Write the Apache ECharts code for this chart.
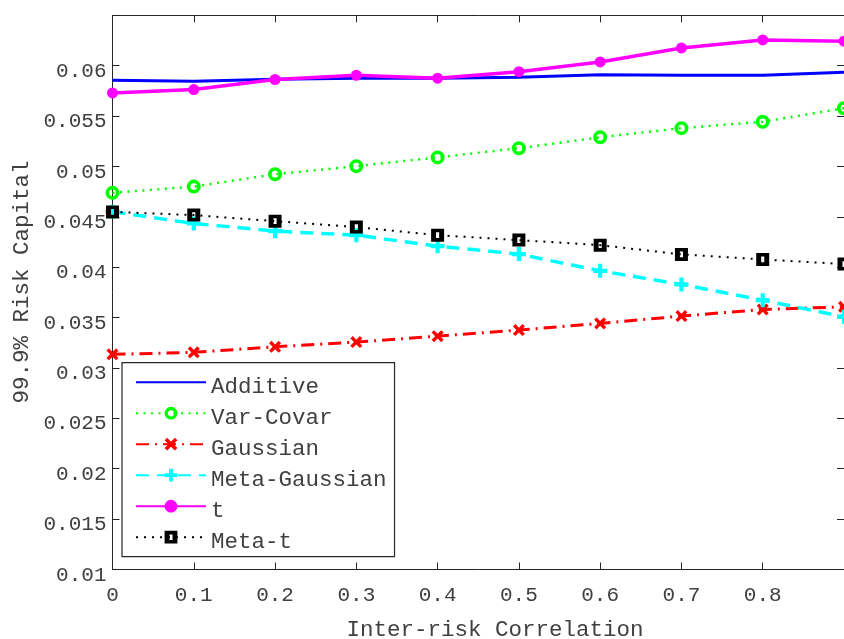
<!DOCTYPE html>
<html>
<head>
<meta charset="utf-8">
<script src="https://cdn.jsdelivr.net/npm/echarts@6/dist/echarts.min.js"></script>
<style>
html,body{margin:0;padding:0;background:#fff;}
#chart{width:844px;height:639px;}
</style>
</head>
<body>
<div id="chart"></div>
<script>
// ---- data ----
const correlations = [0, 0.1, 0.2, 0.3, 0.4, 0.5, 0.6, 0.7, 0.8, 0.9];
const additive     = [0.05856, 0.05846, 0.05866, 0.05876, 0.05876, 0.05885, 0.05910, 0.05905, 0.05905, 0.05935];
const varCovar     = [0.04738, 0.04800, 0.04923, 0.05003, 0.05090, 0.05181, 0.05290, 0.05380, 0.05443, 0.05578];
const gaussian     = [0.03135, 0.03155, 0.03210, 0.03257, 0.03316, 0.03376, 0.03442, 0.03515, 0.03581, 0.03607];
const metaGaussian = [0.04550, 0.04434, 0.04358, 0.04318, 0.04209, 0.04130, 0.03964, 0.03829, 0.03673, 0.03508];
const tCopula      = [0.05730, 0.05763, 0.05863, 0.05905, 0.05876, 0.05940, 0.06037, 0.06176, 0.06256, 0.06243];
const metaT        = [0.04549, 0.04517, 0.04457, 0.04398, 0.04318, 0.04269, 0.04219, 0.04127, 0.04077, 0.04031];
const seriesNames  = ['Additive', 'Var-Covar', 'Gaussian', 'Meta-Gaussian', 't', 'Meta-t'];
const xTitle = 'Inter-risk Correlation';
const yTitle = '99.9% Risk Capital';

const pairs = arr => correlations.map((x, i) => [x, arr[i]]);
const FONT = 'Liberation Mono';
const AX = '#262626';
const TXT = '#404040';

const xSymbol = 'path://M2,0 L5,3 L8,0 L10,2 L7,5 L10,8 L8,10 L5,7 L2,10 L0,8 L3,5 L0,2 Z';
const plusSymbol = 'path://M3.5,0 L6.5,0 L6.5,3.5 L10,3.5 L10,6.5 L6.5,6.5 L6.5,10 L3.5,10 L3.5,6.5 L0,6.5 L0,3.5 L3.5,3.5 Z';
const ringSymbol = 'path://M0,5 A5,5 0 1,1 10,5 A5,5 0 1,1 0,5 Z M2.6,5 A2.4,2.4 0 1,0 7.4,5 A2.4,2.4 0 1,0 2.6,5 Z';
const boxSymbol = 'path://M0,0 L10,0 L10,10 L0,10 Z M3.8,2.8 L3.8,7.2 L6.2,7.2 L6.2,2.8 Z';

const chart = echarts.init(document.getElementById('chart'), null, {renderer: 'canvas'});

const baseX = {
  type: 'value', min: 0, max: 0.9, interval: 0.1,
  axisLine: {show: true, onZero: false, lineStyle: {color: AX, width: 1}},
  axisTick: {show: true, inside: true, length: 7, lineStyle: {color: AX}},
  splitLine: {show: false}
};
const baseY = {
  type: 'value', min: 0.01, max: 0.065, interval: 0.005,
  axisLine: {show: true, onZero: false, lineStyle: {color: AX, width: 1}},
  axisTick: {show: true, inside: true, length: 7, lineStyle: {color: AX}},
  splitLine: {show: false}
};

const option = {
  animation: false,
  backgroundColor: '#ffffff',
  grid: {left: 112.5, right: -3.3, top: 15.3, bottom: 69.5, containLabel: false},
  xAxis: [
    Object.assign({}, baseX, {
      position: 'bottom',
      axisLabel: {
        show: true, margin: 15, color: TXT, fontFamily: FONT, fontSize: 21,
        showMaxLabel: false,
        formatter: v => (Math.abs(v - 0.9) < 1e-9 ? '' : String(+v.toFixed(1)))
      }
    }),
    Object.assign({}, baseX, {position: 'top', axisLabel: {show: false}})
  ],
  yAxis: [
    Object.assign({}, baseY, {
      position: 'left',
      axisLabel: {
        show: true, margin: 6, color: TXT, fontFamily: FONT, fontSize: 21,
        showMaxLabel: false,
        formatter: v => '{a|' + String(+v.toFixed(3)) + '}',
        rich: {a: {fontFamily: FONT, fontSize: 21, color: TXT, padding: [11, 0, 0, 0]}}
      }
    }),
    Object.assign({}, baseY, {position: 'right', axisLabel: {show: false}})
  ],
  legend: {
    show: true,
    orient: 'vertical',
    left: 122, top: 362.7,
    padding: [13, 8, 3, 13],
    backgroundColor: '#ffffff',
    borderColor: AX, borderWidth: 1.2, borderRadius: 0,
    itemWidth: 70, itemHeight: 16, itemGap: 8,
    textStyle: {fontFamily: FONT, fontSize: 22.5, color: TXT,
      rich: {a: {fontFamily: FONT, fontSize: 22.5, color: TXT, padding: [10, 0, 0, 0]}}},
    formatter: name => '{a|' + name + '}',
    data: [
      {name: seriesNames[0], itemStyle: {opacity: 0}},
      seriesNames[1], seriesNames[2], seriesNames[3], seriesNames[4], seriesNames[5]
    ]
  },
  graphic: [
    {type: 'text', x: 22, y: 282, rotation: Math.PI / 2,
     style: {text: yTitle, font: '22.5px "' + FONT + '"', fill: TXT, textAlign: 'center', textVerticalAlign: 'middle'}},
    {type: 'text', x: 495, y: 630,
     style: {text: xTitle, font: '22.5px "' + FONT + '"', fill: TXT, textAlign: 'center', textVerticalAlign: 'middle'}}
  ],
  series: [
    {name: seriesNames[0], type: 'line', data: pairs(additive), symbol: 'none',
     lineStyle: {color: '#0000ff', width: 3}, itemStyle: {color: '#0000ff'}},
    {name: seriesNames[1], type: 'line', data: pairs(varCovar), symbol: ringSymbol, symbolSize: 14,
     lineStyle: {color: '#00ff00', width: 2.5, type: [2, 5.5]},
     itemStyle: {color: '#00ff00'}},
    {name: seriesNames[2], type: 'line', data: pairs(gaussian), symbol: xSymbol, symbolSize: 12,
     lineStyle: {color: '#ff0000', width: 3, type: [13, 6, 2, 6]},
     itemStyle: {color: '#ff0000'}},
    {name: seriesNames[3], type: 'line', data: pairs(metaGaussian), symbol: plusSymbol, symbolSize: 14,
     lineStyle: {color: '#00ffff', width: 3.5, type: [13, 8]},
     itemStyle: {color: '#00ffff'}},
    {name: seriesNames[4], type: 'line', data: pairs(tCopula), symbol: 'circle', symbolSize: 11,
     lineStyle: {color: '#ff00ff', width: 3.5}, itemStyle: {color: '#ff00ff'}},
    {name: seriesNames[5], type: 'line', data: pairs(metaT), symbol: boxSymbol, symbolSize: 13,
     lineStyle: {color: '#000000', width: 2, type: [2, 6]},
     itemStyle: {color: '#000000'}}
  ]
};
chart.setOption(option);
</script>
</body>
</html>
